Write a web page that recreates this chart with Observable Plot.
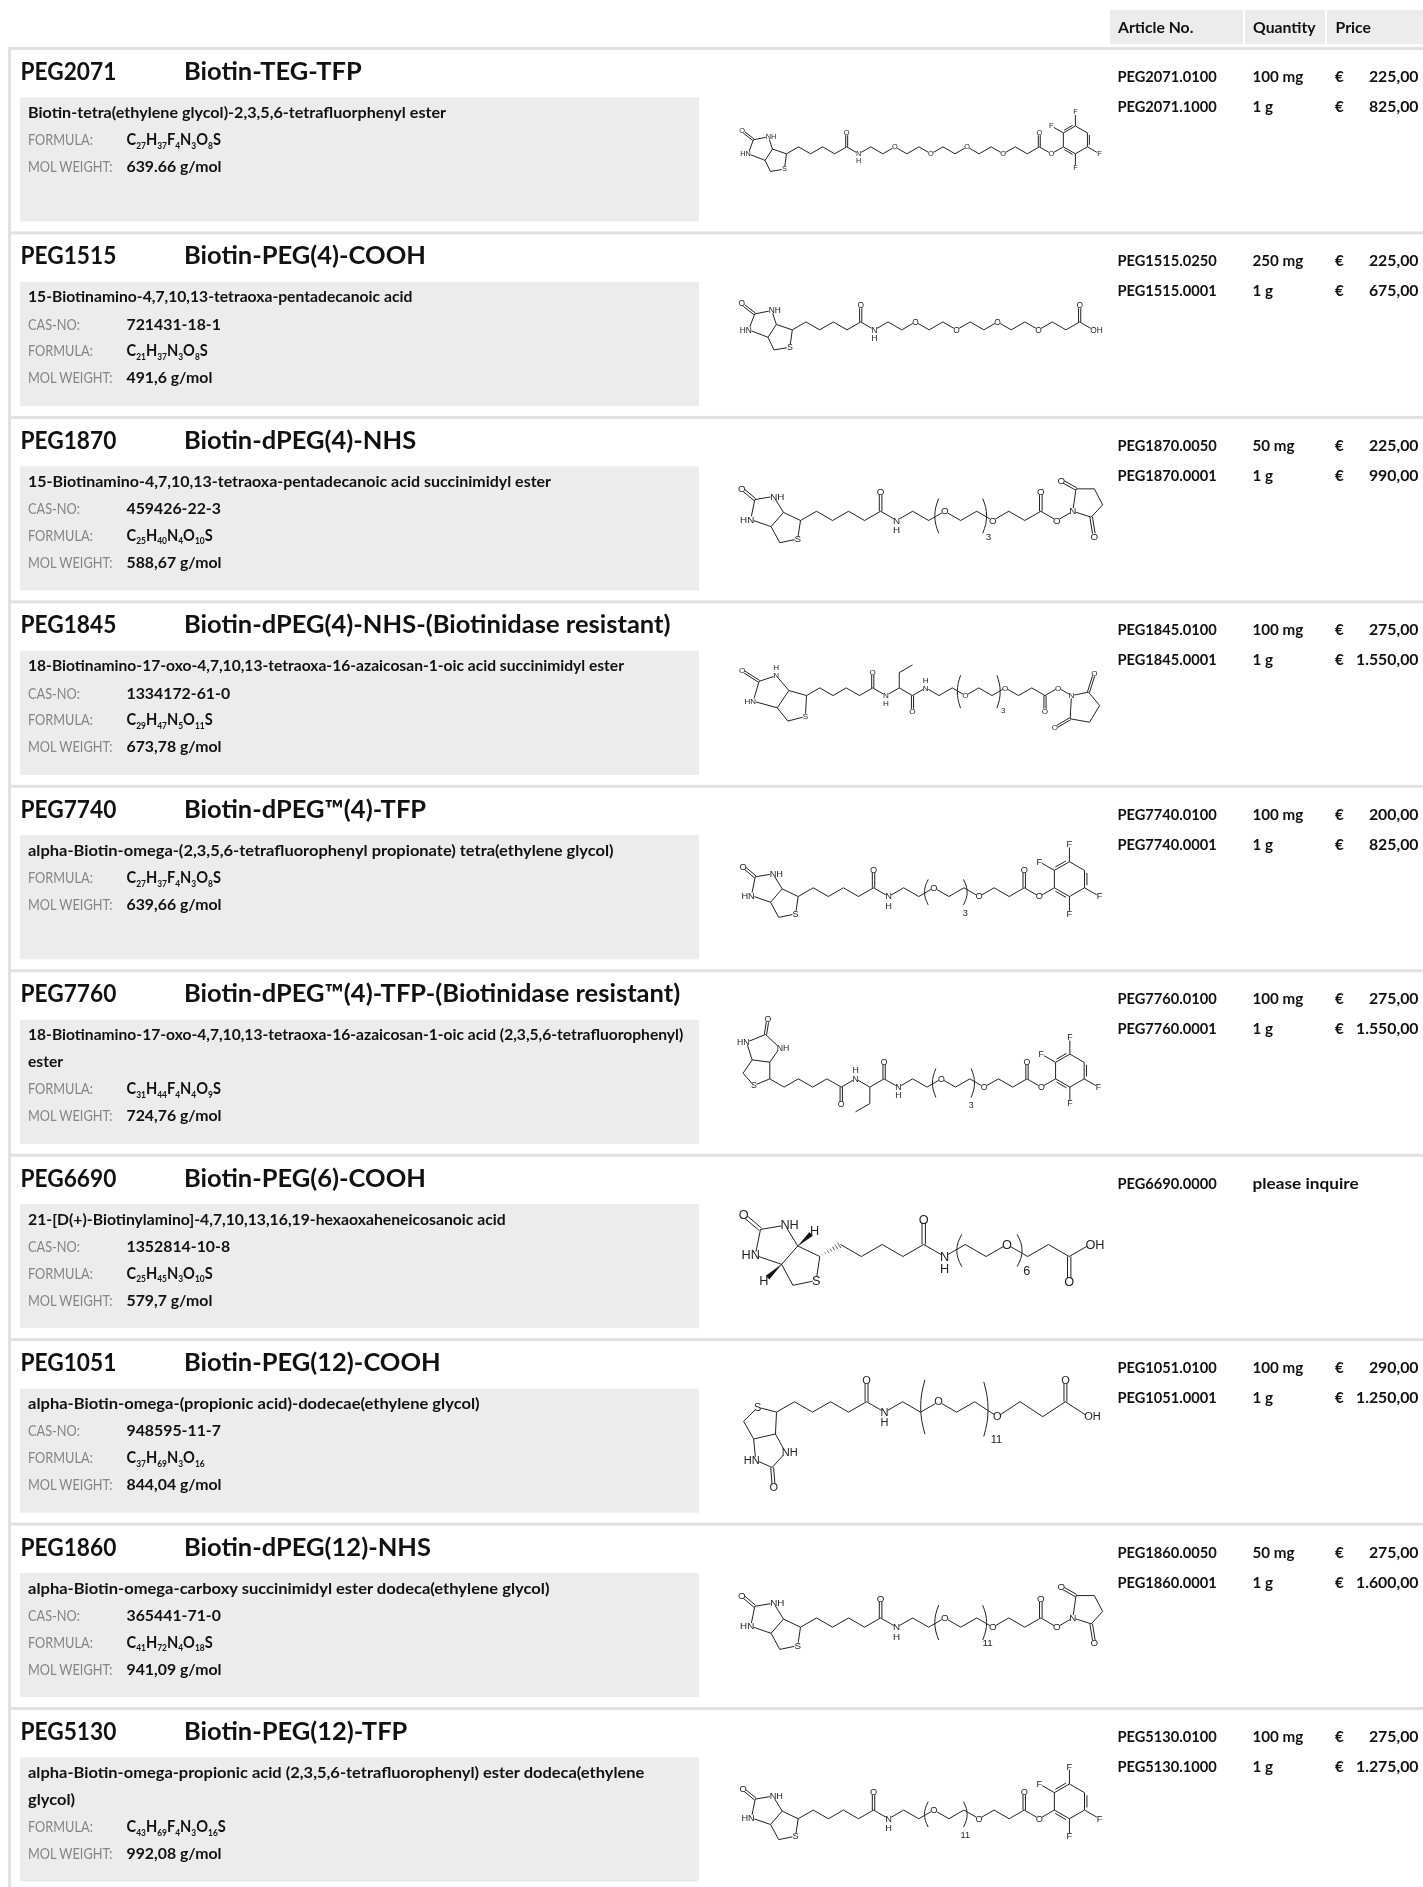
<!DOCTYPE html>
<html><head><meta charset="utf-8">
<script src="https://cdn.jsdelivr.net/npm/d3@7"></script>
<script src="https://cdn.jsdelivr.net/npm/@observablehq/plot@0.6"></script>
<style>html,body{margin:0;padding:0;background:#fff}svg{display:block;will-change:transform}</style>
</head><body><div id="chart"></div>
<script>
// ---------- table content ----------
const headers = ["Article No.", "Quantity", "Price"];
const codes = ["PEG2071","PEG1515","PEG1870","PEG1845","PEG7740","PEG7760","PEG6690","PEG1051","PEG1860","PEG5130"];
const names = ["Biotin-TEG-TFP","Biotin-PEG(4)-COOH","Biotin-dPEG(4)-NHS","Biotin-dPEG(4)-NHS-(Biotinidase resistant)","Biotin-dPEG™(4)-TFP","Biotin-dPEG™(4)-TFP-(Biotinidase resistant)","Biotin-PEG(6)-COOH","Biotin-PEG(12)-COOH","Biotin-dPEG(12)-NHS","Biotin-PEG(12)-TFP"];
const descriptions = [
 ["Biotin-tetra(ethylene glycol)-2,3,5,6-tetrafluorphenyl ester"],
 ["15-Biotinamino-4,7,10,13-tetraoxa-pentadecanoic acid"],
 ["15-Biotinamino-4,7,10,13-tetraoxa-pentadecanoic acid succinimidyl ester"],
 ["18-Biotinamino-17-oxo-4,7,10,13-tetraoxa-16-azaicosan-1-oic acid succinimidyl ester"],
 ["alpha-Biotin-omega-(2,3,5,6-tetrafluorophenyl propionate) tetra(ethylene glycol)"],
 ["18-Biotinamino-17-oxo-4,7,10,13-tetraoxa-16-azaicosan-1-oic acid (2,3,5,6-tetrafluorophenyl)","ester"],
 ["21-[D(+)-Biotinylamino]-4,7,10,13,16,19-hexaoxaheneicosanoic acid"],
 ["alpha-Biotin-omega-(propionic acid)-dodecae(ethylene glycol)"],
 ["alpha-Biotin-omega-carboxy succinimidyl ester dodeca(ethylene glycol)"],
 ["alpha-Biotin-omega-propionic acid (2,3,5,6-tetrafluorophenyl) ester dodeca(ethylene","glycol)"]
];
const casNumbers = [null,"721431-18-1","459426-22-3","1334172-61-0",null,null,"1352814-10-8","948595-11-7","365441-71-0",null];
const formulas = ["C27H37F4N3O8S","C21H37N3O8S","C25H40N4O10S","C29H47N5O11S","C27H37F4N3O8S","C31H44F4N4O9S","C25H45N3O10S","C37H69N3O16","C41H72N4O18S","C43H69F4N3O16S"];
const weights = ["639.66 g/mol","491,6 g/mol","588,67 g/mol","673,78 g/mol","639,66 g/mol","724,76 g/mol","579,7 g/mol","844,04 g/mol","941,09 g/mol","992,08 g/mol"];
const articles = [["PEG2071.0100","PEG2071.1000"],["PEG1515.0250","PEG1515.0001"],["PEG1870.0050","PEG1870.0001"],["PEG1845.0100","PEG1845.0001"],["PEG7740.0100","PEG7740.0001"],["PEG7760.0100","PEG7760.0001"],["PEG6690.0000"],["PEG1051.0100","PEG1051.0001"],["PEG1860.0050","PEG1860.0001"],["PEG5130.0100","PEG5130.1000"]];
const quantities = [["100 mg","1 g"],["250 mg","1 g"],["50 mg","1 g"],["100 mg","1 g"],["100 mg","1 g"],["100 mg","1 g"],["please inquire"],["100 mg","1 g"],["50 mg","1 g"],["100 mg","1 g"]];
const prices = [["225,00","825,00"],["225,00","675,00"],["225,00","990,00"],["275,00","1.550,00"],["200,00","825,00"],["275,00","1.550,00"],[],["290,00","1.250,00"],["275,00","1.600,00"],["275,00","1.275,00"]];

// ---------- molecule linkers (atom sequences after the biotin ring) ----------
const valeroyl = ["C","C","C","C","CO","NH"];
const peg4Open = ["C","C","O","C","C","O","C","C","O","C","C","O","C","C"];
const linkers = [
 [...valeroyl, ...peg4Open, "CO","O","TFP"],
 [...valeroyl, ...peg4Open, "CO","OH"],
 [...valeroyl, "C","C","[","O","C","C","]","O","C","C","CO","O","NHS"],
 ["C","C","C","C","CO","NH","CE","CO","NHup","C","C","[","O","C","C","]","O","C","C","CO","O","NHS2"],
 [...valeroyl, "C","C","[","O","C","C","]","O","C","C","CO","O","TFP"],
 ["C","C","C","C","CO","NHup","CE","CO","NH","C","C","[","O","C","C","]","O","C","C","CO","O","TFP"],
 [...valeroyl, "[","C","C","O","]","C","C","CO","OH"],
 [...valeroyl, "C","C","[","O","C","C","]","wide","O","C","C","CO","OH"],
 [...valeroyl, "C","C","[","O","C","C","]","O","C","C","CO","O","NHS"],
 [...valeroyl, "C","C","[","O","C","C","]","O","C","C","CO","O","TFP"]
];
const repeats = [null,null,"3","3","3","3","6","11","11","11"];

// ---------- layout ----------
const W = 1423, H = 1887;
const rowTop = i => 48.5 + 184.45 * i;
const COL = {code:20, name:183.5, text:27.5, value:126, article:1117, qty:1252, euro:1334.5, price:1418};
const FONT = "Lato, sans-serif", CHEM = "'Liberation Sans', Arial, sans-serif";
const INK = "#111", BAR = "#e1e1e1", BOX = "#ececec", MUTED = "#858585";

// ring geometry in bond-length units
const ringA = {C3a:[-1.01,-.34],C6a:[-1.54,.47],CH2:[-1.16,1.27],S:[-.15,1.1],N1:[-1.3,-1.22],U:[-2.38,-1.01],O:[-3.2,-1.65],N2:[-2.76,0]};
const ringB = {C3a:[-.92,-.44],C6a:[-1.59,.33],CH2:[-1.12,1.2],S:[-.15,1],N1:[-1.45,-1.3],U:[-2.47,-1.13],O:[-3.17,-1.72],N2:[-2.69,-.05]};
const ringC = {C3a:[-1.15,-.33],C6a:[-1.91,.8],CH2:[-1.22,1.67],S:[-.07,1.37],N1:[-1.98,-1.3],U:[-3.1,-.93],O:[-4.2,-1.63],N2:[-3.48,.37],N1H:[-1.98,-1.85]};
const ringD = {C3a:[0,-1.01],C6a:[-1.07,-1.15],CH2:[-1.62,-.34],S:[-.97,.4],N1:[.61,-1.88],U:[-.26,-2.69],O:[-.12,-3.6],N2:[-1.41,-2.22]};
const ringE = {C3a:[-.05,1.05],C6a:[-1.1,1.29],CH2:[-1.58,.44],S:[-.9,-.24],N1:[.44,1.94],U:[-.21,2.66],O:[-.13,3.63],N2:[-1,2.31]};
const nhsA = {Ca:[.17,-1.21],Oa:[-.63,-1.66],Cb:[1.16,-1.21],Cc:[1.61,-.35],Cd:[.99,.32],Od:[1.16,1.37]};
const nhsB = {Ca:[1.11,-.22],Oa:[1.5,-1.46],Cb:[1.84,.65],Cc:[1.18,1.74],Cd:[-.09,1.52],Od:[-1.08,2.1]};

const molLayout = [
 {ring:ringA,x:786,  dy:104.8,L:13.9,first:-1},
 {ring:ringA,x:791.8,dy:96.4, L:15.8,first:-1},
 {ring:ringB,x:800,  dy:102.6,L:18.5,first:-1,bh:.92,lx:.2,ly:.2},
 {ring:ringC,x:806,  dy:93.2, L:15.3,first:-1,bh:1.05,lx:.3,ly:.2},
 {ring:ringB,x:797.7,dy:109.7,L:17.4,first:-1,bh:.71,rs:-.35,lx:0,ly:.5},
 {ring:ringD,x:769.3,dy:107.6,L:16.5,first:1, bh:.86,rs:-.25,lx:-.1,ly:.5},
 {ring:ringB,x:819.3,dy:100.8,L:24,  first:-1,bh:.66,ls:.18,rs:.1,lx:.3,ly:.2,stereo:true},
 {ring:ringE,x:776,  dy:72,   L:20.8,first:-1,bh:1.29,ls:-.33,lx:.5,ly:.15},
 {ring:ringB,x:800,  dy:102.6,L:18.5,first:-1,bh:.92,lx:.15,ly:.2},
 {ring:ringB,x:797.7,dy:109.7,L:17.4,first:-1,bh:.71,rs:-.35,lx:0,ly:.5}
];

// ---------- derive marks' data ----------
const LABEL_SIZE=.53;
const bonds=[], atomLabels=[], arcs=[], wedges=[];
function addBond(a,b,sw=1){bonds.push({x1:a[0],y1:a[1],x2:b[0],y2:b[1],sw});}
function addDouble(a,b,L,side){
  const dx=b[0]-a[0],dy=b[1]-a[1],len=Math.hypot(dx,dy),nx=-dy/len,ny=dx/len,o=.07*L;
  if(side===0){addBond([a[0]+nx*o,a[1]+ny*o],[b[0]+nx*o,b[1]+ny*o]);addBond([a[0]-nx*o,a[1]-ny*o],[b[0]-nx*o,b[1]-ny*o]);}
  else{addBond(a,b);const t=.15,o2=.14*L*side;addBond([a[0]+dx*t+nx*o2,a[1]+dy*t+ny*o2],[b[0]-dx*t+nx*o2,b[1]-dy*t+ny*o2]);}
}
function label(p,text,L,anchor="middle",bg=true){
  const fs=LABEL_SIZE*L; const off=anchor==="start"?-.36*fs:anchor==="end"?.36*fs:0;
  atomLabels.push({ax:p[0],ay:p[1],x:p[0]+off,y:p[1],text,anchor,fs,bg});
}
function arc(id,xc,yc,h,dir,L){
  const b=.2*L;
  for(const t of [0,.25,.5,.75,1]) arcs.push({id,x:xc+dir*b*(1-(2*t-1)**2)-dir*b*.5,y:yc+h*(2*t-1)});
}
linkers.forEach((tokens,m)=>{
  const s=molLayout[m], L=s.L, ox=s.x, oy=rowTop(m)+s.dy;
  const P=k=>[ox+s.ring[k][0]*L,oy+s.ring[k][1]*L], R=[ox,oy];
  [[R,P("C3a")],[P("C3a"),P("C6a")],[P("C6a"),P("CH2")],[P("CH2"),P("S")],[P("S"),R],[P("C3a"),P("N1")],[P("N1"),P("U")],[P("U"),P("N2")],[P("N2"),P("C6a")]].forEach(([a,b])=>addBond(a,b));
  addDouble(P("U"),P("O"),L,0);
  label(P("O"),"O",L); label(P("S"),"S",L);
  if(s.ring.N1H){label(P("N1"),"N",L);label(P("N1H"),"H",L,"middle",false);}
  else label(P("N1"),"NH",L,"start");
  label(P("N2"),"HN",L,"end");
  if(s.stereo){
    const hTop=[ox-.22*L,oy-1.08*L], hBot=[ox-2.33*L,oy+1.03*L];
    [[P("C3a"),hTop,"t"+m],[P("C6a"),hBot,"b"+m]].forEach(([a,h,id])=>{
      const e=[a[0]+(h[0]-a[0])*.78,a[1]+(h[1]-a[1])*.78];
      const dx=h[0]-a[0],dy=h[1]-a[1],n=Math.hypot(dx,dy),w=.1*L;
      wedges.push({id,x:a[0],y:a[1]},{id,x:e[0]-dy/n*w,y:e[1]+dx/n*w},{id,x:e[0]+dy/n*w,y:e[1]-dx/n*w});
      label(h,"H",L,"middle",false);
    });
  }
  let cur=R, sign=s.first, kx=1, ky=1, pend=null, first=true, arcN=0;
  for(const tok of tokens){
    if(tok==="["||tok==="]"){pend=tok;continue;}
    if(tok==="wide"){kx=1.26;ky=1.43;continue;}
    const next=[cur[0]+.866*L*kx,cur[1]+sign*.5*L*ky];
    if(first&&s.stereo){
      for(let i=1;i<=7;i++){const t=i/7.5,w=.14*L*t,dx=next[0]-cur[0],dy=next[1]-cur[1],n=Math.hypot(dx,dy),mx=cur[0]+dx*t,my=cur[1]+dy*t;
        addBond([mx-dy/n*w,my+dx/n*w],[mx+dy/n*w,my-dx/n*w],.7);}
    } else addBond(cur,next);
    first=false;
    if(pend){
      const isL=pend==="[", xc=(cur[0]+next[0])/2+((isL?s.ls:s.rs)||0)*L, yc=(cur[1]+next[1])/2, h=(s.bh||1)*L;
      arc(`${m}-${arcN++}`,xc,yc,h,isL?-1:1,L);
      if(!isL) atomLabels.push({ax:0,ay:0,x:xc+s.lx*L,y:yc+h+s.ly*L,text:repeats[m],anchor:"middle",fs:LABEL_SIZE*L,bg:false});
      pend=null;
    }
    cur=next;
    const vert=sign;
    if(tok==="O") label(cur,"O",L);
    else if(tok==="OH") label(cur,"OH",L,"start");
    else if(tok==="CO"){const o=[cur[0],cur[1]+vert*1.04*L];addDouble(cur,o,L,0);label(o,"O",L);}
    else if(tok==="NH"){label(cur,"N",L);label([cur[0],cur[1]+.52*L],"H",L,"middle",false);}
    else if(tok==="NHup"){label(cur,"N",L);label([cur[0],cur[1]-.52*L],"H",L,"middle",false);}
    else if(tok==="CE"){const e1=[cur[0],cur[1]+vert*L],e2=[e1[0]-vert*.866*L,e1[1]+vert*.5*L];addBond(cur,e1);addBond(e1,e2);}
    else if(tok==="TFP"){
      const c=(a,b)=>[cur[0]+a*L,cur[1]+b*L];
      const hex=[c(0,0),c(0,-1),c(.866,-1.5),c(1.732,-1),c(1.732,0),c(.866,.5)];
      hex.forEach((p,i)=>{const q=hex[(i+1)%6];if(i===1||i===3||i===5)addDouble(p,q,L,-1);else addBond(p,q);});
      [[1,-.866,-1.5],[2,.866,-2.5],[4,2.6,.5],[5,.866,1.5]].forEach(([i,a,b])=>{const f=c(a,b);addBond(hex[i],f);label(f,"F",L);});
    }
    else if(tok==="NHS"||tok==="NHS2"){
      const g=tok==="NHS"?nhsA:nhsB, c=k=>[cur[0]+g[k][0]*L,cur[1]+g[k][1]*L];
      [[cur,c("Ca")],[c("Ca"),c("Cb")],[c("Cb"),c("Cc")],[c("Cc"),c("Cd")],[c("Cd"),cur]].forEach(([a,b])=>addBond(a,b));
      addDouble(c("Ca"),c("Oa"),L,0);addDouble(c("Cd"),c("Od"),L,0);
      label(cur,"N",L);label(c("Oa"),"O",L);label(c("Od"),"O",L);
    }
    sign=-sign;
  }
});

// table rows
const rowBoxes=codes.map((_,i)=>({x1:20,x2:699,y1:rowTop(i)+49,y2:Math.min(rowTop(i)+173,H)}));
const LINE=[69,96.2,123,150];
const descLines=[],labels=[],values=[],formulaRows=[];
codes.forEach((_,i)=>{
  let n=0;
  descriptions[i].forEach(t=>descLines.push({x:COL.text,y:rowTop(i)+LINE[n++],t,row:i}));
  const add=(lab,val,list)=>{labels.push({x:COL.text,y:rowTop(i)+LINE[n],t:lab});list.push({x:COL.value,y:rowTop(i)+LINE[n],t:val});n++;};
  if(casNumbers[i]) add("CAS-NO:",casNumbers[i],values);
  add("FORMULA:",formulas[i],formulaRows);
  add("MOL WEIGHT:",weights[i],values);
});
const articleLines=[],qtyLines=[];
codes.forEach((_,i)=>{
  articles[i].forEach((t,k)=>articleLines.push({x:COL.article,y:rowTop(i)+33+30*k,t}));
  quantities[i].forEach((t,k)=>qtyLines.push({x:COL.qty,y:rowTop(i)+33+30*k,t}));
});
const euros=[],amounts=[];
prices.forEach((r,i)=>r.forEach((t,k)=>{euros.push({x:COL.euro,y:rowTop(i)+33+30*k,t:"€"});amounts.push({x:COL.price,y:rowTop(i)+33+30*k,t});}));
const headerBoxes=[{x1:1110,x2:1243},{x1:1245,x2:1325},{x1:1327,x2:1423}];
const headerText=headers.map((t,i)=>({t,x:[COL.article+.5,1252.5,1335][i],y:32.7}));
const titleRows=codes.map((t,i)=>({t,x:COL.code,y:rowTop(i)+31}));
const nameRows=names.map((t,i)=>({t,x:COL.name,y:rowTop(i)+31}));

const txt=(data,opts)=>Plot.text(data,{x:"x",y:"y",text:"t",textAnchor:"start",lineAnchor:"bottom",fontFamily:FONT,fill:INK,...opts});
const anchorMark=a=>Plot.text(atomLabels.filter(d=>d.anchor===a),{x:"x",y:"y",text:"text",fontSize:"fs",textAnchor:a,lineAnchor:"middle",fontFamily:CHEM,fill:"#222"});

const chart=Plot.plot({
  width:W,height:H,margin:0,
  x:{domain:[0,W],range:[0,W],axis:null},
  y:{domain:[0,H],range:[0,H],axis:null},
  style:{background:"#fff"},
  marks:[
    Plot.rect(headerBoxes,{x1:"x1",x2:"x2",y1:()=>10,y2:()=>44,fill:BOX}),
    Plot.rect(codes,{x1:()=>8,x2:()=>W,y1:(d,i)=>rowTop(i)-1.5,y2:(d,i)=>rowTop(i)+1.5,fill:BAR}),
    Plot.rect([0],{x1:()=>8,x2:()=>11,y1:()=>47,y2:()=>H,fill:BAR}),
    Plot.rect(rowBoxes,{x1:"x1",x2:"x2",y1:"y1",y2:"y2",fill:BOX}),
    txt(headerText,{fontSize:16,fontWeight:700,className:"sq-header"}),
    txt(titleRows,{fontSize:25,fontWeight:700,className:"sq-code"}),
    txt(nameRows,{fontSize:25,fontWeight:700,className:"sq-name"}),
    ...descriptions.map((_,i)=>txt(descLines.filter(d=>d.row===i),{fontSize:16,fontWeight:700,className:`sq-desc${i}`})),
    txt(labels,{fontSize:15,fontWeight:400,fill:MUTED,className:"sq-label"}),
    txt(values,{fontSize:16,fontWeight:700,className:"sq-value"}),
    txt(formulaRows,{fontSize:16.5,fontWeight:700,className:"sq-formula formula"}),
    txt(articleLines,{fontSize:16,fontWeight:700,className:"sq-article"}),
    txt(qtyLines.filter(d=>d.t!=="please inquire"),{fontSize:16,fontWeight:700,className:"sq-qty"}),
    txt(qtyLines.filter(d=>d.t==="please inquire"),{fontSize:16,fontWeight:700,className:"sq-inquire"}),
    txt(euros,{fontSize:16,fontWeight:700,className:"sq-qty"}),
    txt(amounts,{fontSize:16,fontWeight:700,textAnchor:"end",className:"sq-value"}),
    Plot.link(bonds,{x1:"x1",y1:"y1",x2:"x2",y2:"y2",stroke:"#222",strokeWidth:"sw"}),
    Plot.line(arcs,{x:"x",y:"y",z:"id",stroke:"#222",strokeWidth:1,curve:"natural"}),
    Plot.line(wedges,{x:"x",y:"y",z:"id",stroke:"#111",strokeWidth:.5,fill:"#111",curve:"linear"}),
    Plot.dot(atomLabels.filter(d=>d.bg),{x:"ax",y:"ay",r:d=>d.fs*.55,fill:"#fff",stroke:null}),
    anchorMark("start"),anchorMark("middle"),anchorMark("end")
  ]
});
document.getElementById("chart").append(chart);

// condensed lettering and chemical subscripts on the text marks
const descFit=[1.03,1.0,1.02,.995,1.05,.995,1.005,1.055,1.055,1.05];
const SQUEEZE={header:.985,code:.908,name:1.02,label:.85,value:.99,formula:.885,article:.915,qty:.95,inquire:1.075};
descFit.forEach((f,i)=>SQUEEZE[`desc${i}`]=.98*f);
Object.entries(SQUEEZE).forEach(([k,s])=>{
  d3.select(chart).selectAll(`.sq-${k} text`).each(function(){
    this.setAttribute("transform",(this.getAttribute("transform")||"")+` scale(${s},1)`);
  });
});
d3.select(chart).selectAll(".formula text").each(function(){
  const parts=this.textContent.split(/(\d+)/).filter(Boolean);
  this.textContent="";
  let low=false;
  parts.forEach(p=>{
    const isSub=/^\d+$/.test(p), span=document.createElementNS("http://www.w3.org/2000/svg","tspan");
    span.textContent=p;
    if(isSub){span.setAttribute("font-size","9.5");span.setAttribute("dy","3.5");low=true;}
    else if(low){span.setAttribute("dy","-3.5");low=false;}
    this.append(span);
  });
});
</script></body></html>
